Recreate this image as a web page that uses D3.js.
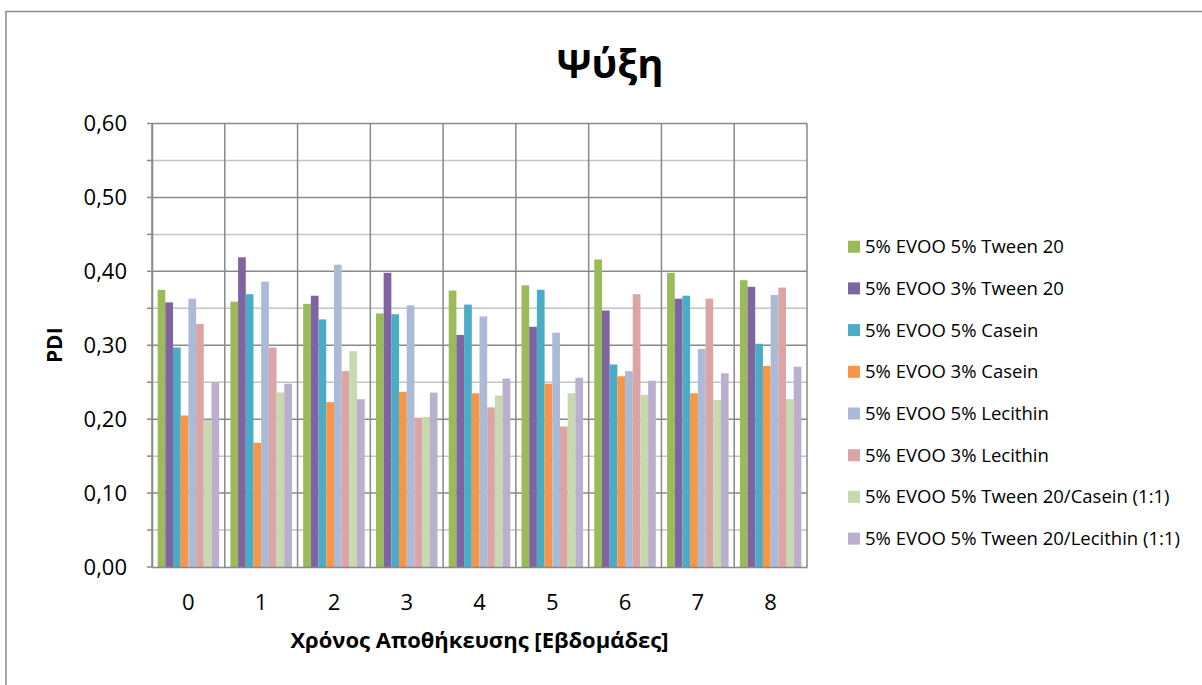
<!DOCTYPE html>
<html>
<head>
<meta charset="utf-8">
<script src="https://cdn.jsdelivr.net/npm/d3@7"></script>
<style>
  html, body { margin: 0; padding: 0; background: #fff; }
  svg { display: block; font-family: "Open Sans", "Noto Sans", sans-serif; }
</style>
</head>
<body>
<svg id="chart" width="1202" height="685"></svg>
<script>
// Storage weeks on the x axis
const weeks = ["0", "1", "2", "3", "4", "5", "6", "7", "8"];

// Formulation names (legend order = bar order within each week)
const seriesNames = [
  "5% EVOO 5% Tween 20",
  "5% EVOO 3% Tween 20",
  "5% EVOO 5% Casein",
  "5% EVOO 3% Casein",
  "5% EVOO 5% Lecithin",
  "5% EVOO 3% Lecithin",
  "5% EVOO 5% Tween 20/Casein (1:1)",
  "5% EVOO 5% Tween 20/Lecithin (1:1)"
];

// PDI per formulation, one value per week 0..8
const tween5   = [0.375, 0.359, 0.356, 0.343, 0.374, 0.381, 0.416, 0.398, 0.388];
const tween3   = [0.358, 0.419, 0.367, 0.398, 0.314, 0.325, 0.347, 0.363, 0.379];
const casein5  = [0.297, 0.369, 0.335, 0.342, 0.355, 0.375, 0.274, 0.367, 0.302];
const casein3  = [0.205, 0.168, 0.223, 0.237, 0.235, 0.248, 0.258, 0.235, 0.272];
const lecith5  = [0.363, 0.386, 0.409, 0.354, 0.339, 0.317, 0.265, 0.295, 0.368];
const lecith3  = [0.329, 0.297, 0.265, 0.202, 0.216, 0.190, 0.369, 0.363, 0.378];
const twCas    = [0.199, 0.236, 0.292, 0.203, 0.232, 0.235, 0.233, 0.226, 0.227];
const twLec    = [0.250, 0.248, 0.227, 0.236, 0.255, 0.256, 0.252, 0.262, 0.271];

const seriesValues = [tween5, tween3, casein5, casein3, lecith5, lecith3, twCas, twLec];
const colors = ["#9BBB59", "#8064A2", "#4BACC6", "#F79646", "#AABAD7", "#DBA5A5", "#C8D8AF", "#BAB0CD"];

const yTicks = [0, 0.1, 0.2, 0.3, 0.4, 0.5, 0.6];
const yMinor = [0.05, 0.15, 0.25, 0.35, 0.45, 0.55];

const svg = d3.select("#chart");

// outer chart frame
svg.append("rect")
  .attr("x", 6).attr("y", 11.5)
  .attr("width", 1250).attr("height", 720)
  .attr("fill", "#fff").attr("stroke", "#8c8c8c").attr("stroke-width", 1.5);

const plot = { left: 152, right: 807, top: 123.5, bottom: 567 };

const x0 = d3.scaleBand().domain(weeks).range([plot.left, plot.right]).padding(0);
const x1 = d3.scaleBand().domain(d3.range(seriesNames.length))
  .range([0, x0.bandwidth()]).paddingInner(0).paddingOuter(0.73);
const y = d3.scaleLinear().domain([0, 0.6]).range([plot.bottom, plot.top]);

// minor horizontal gridlines
svg.append("g").selectAll("line").data(yMinor).join("line")
  .attr("x1", plot.left).attr("x2", plot.right)
  .attr("y1", d => y(d)).attr("y2", d => y(d))
  .attr("stroke", "#c4c4c4").attr("stroke-width", 1.5);

// major horizontal gridlines
svg.append("g").selectAll("line").data(yTicks.slice(1)).join("line")
  .attr("x1", plot.left).attr("x2", plot.right)
  .attr("y1", d => y(d)).attr("y2", d => y(d))
  .attr("stroke", "#898989").attr("stroke-width", 1.5);

// short tick marks on the value axis
svg.append("g").selectAll("line").data(yTicks.concat(yMinor)).join("line")
  .attr("x1", plot.left - 5).attr("x2", plot.left)
  .attr("y1", d => y(d)).attr("y2", d => y(d))
  .attr("stroke", "#898989").attr("stroke-width", 1.5);

// vertical gridlines at week boundaries
const bounds = weeks.map(w => x0(w)).concat([plot.right]);
svg.append("g").selectAll("line").data(bounds).join("line")
  .attr("x1", d => d).attr("x2", d => d)
  .attr("y1", plot.top).attr("y2", plot.bottom)
  .attr("stroke", "#898989").attr("stroke-width", 1.5);

// bars
const groups = svg.append("g").selectAll("g").data(weeks).join("g")
  .attr("transform", w => `translate(${x0(w)},0)`);
groups.selectAll("rect")
  .data((w, i) => seriesValues.map((vals, s) => ({ s, v: vals[i] })))
  .join("rect")
  .attr("x", d => x1(d.s))
  .attr("width", x1.bandwidth())
  .attr("y", d => y(d.v))
  .attr("height", d => y(0) - y(d.v))
  .attr("fill", d => colors[d.s]);

// axes
const fmt = d3.format(".2f");
const yAxis = d3.axisLeft(y).tickValues(yTicks).tickSize(0).tickPadding(25)
  .tickFormat(d => fmt(d).replace(".", ","));
const gy = svg.append("g").attr("transform", `translate(${plot.left},0)`).call(yAxis);
gy.select(".domain").attr("stroke", "#898989").attr("stroke-width", 1.5);
gy.selectAll("text").attr("font-size", 22).attr("fill", "#000")
  .attr("font-family", "Open Sans, sans-serif");

const xAxis = d3.axisBottom(x0).tickSize(0).tickPadding(27);
const gx = svg.append("g").attr("transform", `translate(0,${plot.bottom})`).call(xAxis);
gx.select(".domain").attr("stroke", "#898989").attr("stroke-width", 1.5);
gx.selectAll("text").attr("font-size", 22).attr("fill", "#000")
  .attr("font-family", "Open Sans, sans-serif");

// titles
svg.append("text").attr("x", 610).attr("y", 78).attr("text-anchor", "middle")
  .attr("font-size", 40).attr("font-weight", "bold").text("Ψύξη");

svg.append("text").attr("x", (plot.left + plot.right) / 2).attr("y", 648)
  .attr("text-anchor", "middle").attr("font-size", 22).attr("font-weight", "bold")
  .text("Χρόνος Αποθήκευσης [Εβδομάδες]");

svg.append("text")
  .attr("transform", `translate(62,${(plot.top + plot.bottom) / 2}) rotate(-90)`)
  .attr("text-anchor", "middle").attr("font-size", 21).attr("font-weight", "bold")
  .text("PDI");

// legend
const legend = svg.append("g").selectAll("g").data(seriesNames).join("g")
  .attr("transform", (d, i) => `translate(848,${246.7 + i * 41.7})`);
legend.append("rect").attr("x", 0).attr("y", -6).attr("width", 12).attr("height", 12)
  .attr("fill", (d, i) => colors[i]);
legend.append("text").attr("x", 17).attr("y", 0).attr("dy", "0.35em")
  .attr("font-size", 18.5).attr("fill", "#000").text(d => d);
</script>
</body>
</html>
